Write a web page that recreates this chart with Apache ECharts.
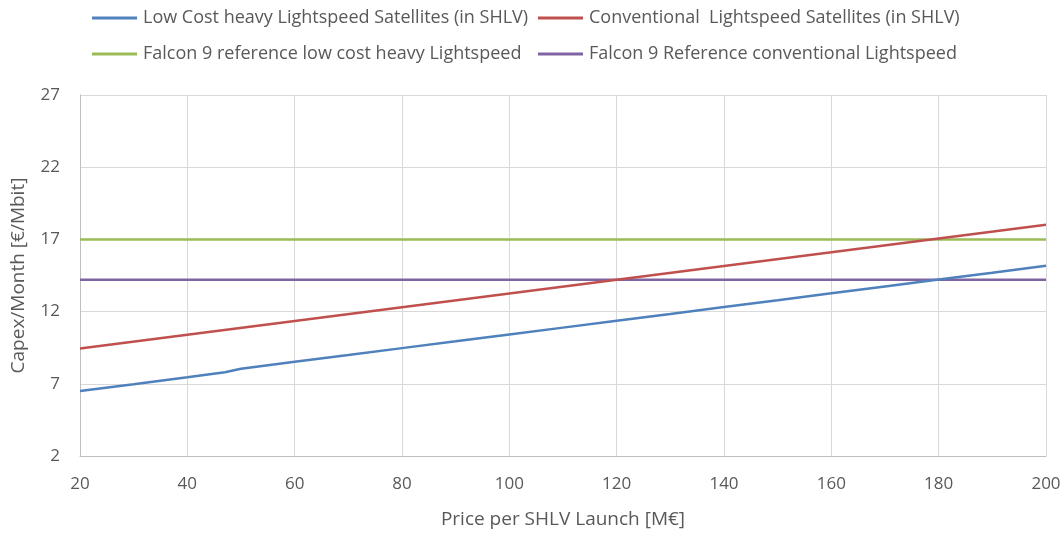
<!DOCTYPE html>
<html>
<head>
<meta charset="utf-8">
<script src="https://cdn.jsdelivr.net/npm/echarts@6/dist/echarts.min.js"></script>
<style>html,body{margin:0;padding:0;background:#fff}#c{width:1064px;height:534px}</style>
</head>
<body>
<div id="c"></div>
<script>
const seriesNames = [
  'Low Cost heavy Lightspeed Satellites (in SHLV)',
  'Conventional  Lightspeed Satellites (in SHLV)',
  'Falcon 9 reference low cost heavy Lightspeed',
  'Falcon 9 Reference conventional Lightspeed'
];
const lowCostX = [20,30,40,47,50,60,70,80,90,100,110,120,130,140,150,160,170,180,190,200];
const lowCostY = [6.5,6.97,7.45,7.8,8.04,8.52,8.99,9.47,9.94,10.42,10.89,11.37,11.84,12.32,12.79,13.27,13.74,14.22,14.69,15.17];
const convX = [20,40,60,80,100,120,140,160,180,200];
const convY = [9.44,10.39,11.35,12.30,13.25,14.21,15.16,16.11,17.07,18.02];
const refX = [20,200];
const falconLowCost = [17,17];
const falconConv = [14.2,14.2];
const xTicks = [20,40,60,80,100,120,140,160,180,200];
const yTicks = [2,7,12,17,22,27];

const colors = ['#4f81bd','#c0504d','#9bbb59','#8064a2'];
const font = "'Liberation Sans Narrow', 'Open Sans', sans-serif";
const pair = (xs, ys) => xs.map((x,i)=>[x, ys[i]]);

const legendPos = [[92,9],[538,9],[92,45],[538,45]];
const legends = seriesNames.map((n,i)=>({
  data:[n], left: legendPos[i][0], top: legendPos[i][1], padding:0,
  icon:'rect', itemWidth:45, itemHeight:3, selectedMode:false,
  textStyle:{fontFamily:font, fontSize:18, color:'#595959', padding:[0,0,0,1]}
}));

const chart = echarts.init(document.getElementById('c'), null, {renderer:'canvas'});
chart.setOption({
  animation:false,
  color: colors,
  legend: legends,
  grid:{left:80, right:18, top:95, bottom:75, containLabel:false},
  xAxis:{
    type:'value', min:20, max:200, interval:20,
    name:'Price per SHLV Launch [M€]', nameLocation:'middle', nameGap:54,
    nameTextStyle:{fontFamily:font, fontSize:19, color:'#595959'},
    axisLine:{show:true, lineStyle:{color:'#bfbfbf', width:1}},
    axisTick:{show:false},
    axisLabel:{fontFamily:font, fontSize:17, color:'#595959', margin:20,
      formatter:v=> xTicks.includes(v)? String(v):''},
    splitLine:{show:true, lineStyle:{color:'#d9d9d9', width:1}}
  },
  yAxis:{
    type:'value', min:2, max:27, interval:5,
    name:'Capex/Month [€/Mbit]', nameLocation:'middle', nameGap:52, nameRotate:90,
    nameTextStyle:{fontFamily:font, fontSize:19, color:'#595959'},
    axisLine:{show:true, lineStyle:{color:'#bfbfbf', width:1}},
    axisTick:{show:false},
    axisLabel:{fontFamily:font, fontSize:17, color:'#595959', margin:20,
      formatter:v=> yTicks.includes(v)? String(v):''},
    splitLine:{show:true, lineStyle:{color:'#d9d9d9', width:1}}
  },
  series:[
    {name:seriesNames[0], type:'line', data:pair(lowCostX, lowCostY), showSymbol:false, lineStyle:{width:2.5, color:colors[0]}, z:4},
    {name:seriesNames[1], type:'line', data:pair(convX, convY), showSymbol:false, lineStyle:{width:2.5, color:colors[1]}, z:3},
    {name:seriesNames[2], type:'line', data:pair(refX, falconLowCost), showSymbol:false, lineStyle:{width:2.5, color:colors[2]}, z:2},
    {name:seriesNames[3], type:'line', data:pair(refX, falconConv), showSymbol:false, lineStyle:{width:2.5, color:colors[3]}, z:2}
  ]
});
</script>
</body>
</html>
